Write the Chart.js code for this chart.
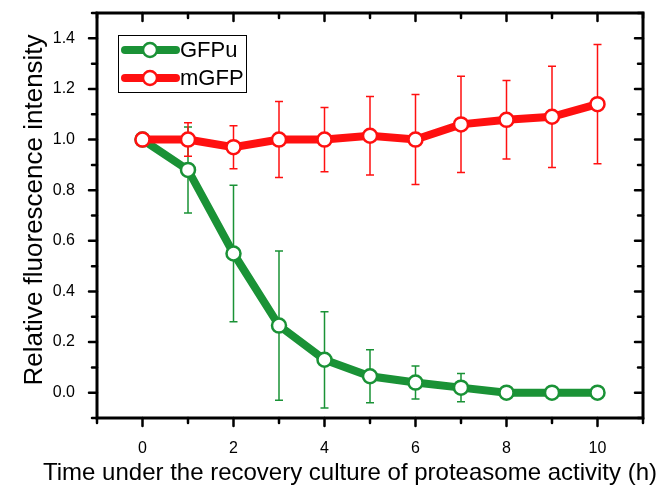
<!DOCTYPE html>
<html>
<head>
<meta charset="utf-8">
<script src="https://cdn.jsdelivr.net/npm/chart.js@4/dist/chart.umd.min.js"></script>
<style>
  html, body { margin: 0; padding: 0; background: #fff; }
  #wrap { width: 663px; height: 494px; }
</style>
</head>
<body>
<div id="wrap"><canvas id="chart1"></canvas></div>
<script>
// time points (h)
const hours = [0, 1, 2, 3, 4, 5, 6, 7, 8, 9, 10];

// GFPu
const gfpu = [1.0, 0.88, 0.55, 0.265, 0.13, 0.065, 0.04, 0.02, 0.0, 0.0, 0.0];
const gfpuErr = [0, 0.17, 0.27, 0.295, 0.19, 0.105, 0.065, 0.056, 0, 0, 0];

// mGFP
const mgfp = [1.0, 1.0, 0.97, 1.0, 1.0, 1.015, 1.0, 1.06, 1.078, 1.09, 1.14];
const mgfpErr = [0, 0.066, 0.085, 0.15, 0.127, 0.155, 0.178, 0.19, 0.155, 0.2, 0.236];

const xTickValues = [0, 2, 4, 6, 8, 10];
const yTickValues = [0, 0.2, 0.4, 0.6, 0.8, 1.0, 1.2, 1.4];

const GREEN = 'rgb(26,146,54)';
const RED = 'rgb(255,16,16)';
const FONT = 'Arial, "Liberation Sans", sans-serif';

const ctx = document.getElementById('chart1');

function pts(ys) {
    return hours.map((h, i) => ({x: h, y: ys[i]}));
}

// error bars under the lines
const errorBars = {
    id: 'errorBars',
    beforeDatasetsDraw(chart) {
        const c = chart.ctx, xs = chart.scales.x, ys = chart.scales.y;
        chart.data.datasets.forEach(ds => {
            c.save();
            c.strokeStyle = ds.borderColor;
            c.lineWidth = 1.5;
            ds.data.forEach((p, i) => {
                const e = ds.errors[i];
                if (!e) return;
                const px = xs.getPixelForValue(p.x);
                const top = ys.getPixelForValue(p.y + e);
                const bot = ys.getPixelForValue(p.y - e);
                c.beginPath();
                c.moveTo(px, top); c.lineTo(px, bot);
                c.moveTo(px - 4, top); c.lineTo(px + 4, top);
                c.moveTo(px - 4, bot); c.lineTo(px + 4, bot);
                c.stroke();
            });
            c.restore();
        });
    }
};

// frame, ticks, axis titles and legend
const frame = {
    id: 'frame',
    afterDraw(chart) {
        const c = chart.ctx, a = chart.chartArea;
        const xs = chart.scales.x, ys = chart.scales.y;
        c.save();
        c.strokeStyle = '#000';
        c.lineCap = 'round';
        c.lineWidth = 2.5;
        // x ticks
        for (let v = -1; v <= 11; v++) {
            const px = xs.getPixelForValue(v);
            const len = (v % 2 === 0) ? 8 : 5;
            c.beginPath();
            c.moveTo(px, a.bottom); c.lineTo(px, a.bottom + len);
            c.moveTo(px, a.top); c.lineTo(px, a.top + len);
            c.stroke();
        }
        // y ticks
        for (let k = -1; k <= 15; k++) {
            const py = ys.getPixelForValue(k / 10);
            const len = (k % 2 === 0) ? 8 : 5;
            c.beginPath();
            c.moveTo(a.left, py); c.lineTo(a.left - len, py);
            c.moveTo(a.right, py); c.lineTo(a.right - len, py);
            c.stroke();
        }
        c.lineWidth = 3;
        c.lineCap = 'square';
        c.strokeRect(a.left, a.top, a.right - a.left, a.bottom - a.top);

        // axis titles
        c.fillStyle = '#000';
        c.font = '24px ' + FONT;
        c.textAlign = 'center';
        c.textBaseline = 'middle';
        c.fillText('Time under the recovery culture of proteasome activity (h)', 350, 473);
        c.save();
        c.translate(35, 210);
        c.rotate(-Math.PI / 2);
        c.font = '26px ' + FONT;
        c.fillText('Relative fluorescence intensity', 0, 0);
        c.restore();

        // legend
        const lx = 118, ly = 35;
        c.lineWidth = 1;
        c.strokeRect(lx + 0.5, ly + 0.5, 128, 57);
        chart.data.datasets.forEach((ds, i) => {
            const y = ly + 15 + i * 28;
            c.strokeStyle = ds.borderColor;
            c.lineWidth = 8;
            c.lineCap = 'round';
            c.beginPath();
            c.moveTo(lx + 7, y); c.lineTo(lx + 58, y);
            c.stroke();
            c.beginPath();
            c.arc(lx + 32, y, 7, 0, Math.PI * 2);
            c.fillStyle = '#fff';
            c.fill();
            c.lineWidth = 2.5;
            c.stroke();
            c.fillStyle = '#000';
            c.font = '22px ' + FONT;
            c.textAlign = 'left';
            c.fillText(ds.label, lx + 62, y + 1);
        });
        c.restore();
    }
};

const config = {
    type: 'line',
    data: {
        datasets: [
            {
                label: 'GFPu',
                data: pts(gfpu),
                errors: gfpuErr,
                borderColor: GREEN,
                backgroundColor: '#fff',
                borderWidth: 8,
                pointRadius: 7,
                pointBorderWidth: 2.5,
                pointBackgroundColor: '#fff',
                pointBorderColor: GREEN,
                order: 1
            },
            {
                label: 'mGFP',
                data: pts(mgfp),
                errors: mgfpErr,
                borderColor: RED,
                backgroundColor: '#fff',
                borderWidth: 8,
                pointRadius: 7,
                pointBorderWidth: 2.5,
                pointBackgroundColor: '#fff',
                pointBorderColor: RED,
                order: 0
            }
        ]
    },
    options: {
        responsive: true,
        maintainAspectRatio: false,
        animation: false,
        layout: { padding: { left: 0, right: 20, top: 13, bottom: 0 } },
        plugins: { legend: { display: false }, tooltip: { enabled: false } },
        scales: {
            x: {
                type: 'linear',
                min: -1,
                max: 11,
                grid: { display: false },
                border: { display: false },
                afterBuildTicks: s => { s.ticks = xTickValues.map(v => ({value: v})); },
                afterFit: s => { s.height = 76; s.paddingLeft = 0; s.paddingRight = 0; },
                ticks: { color: '#000', padding: 13, font: { size: 16, family: FONT } }
            },
            y: {
                type: 'linear',
                min: -0.1,
                max: 1.5,
                grid: { display: false },
                border: { display: false },
                afterBuildTicks: s => { s.ticks = yTickValues.map(v => ({value: v})); },
                afterFit: s => { s.width = 97; s.paddingTop = 0; s.paddingBottom = 0; },
                ticks: {
                    color: '#000', padding: 14, font: { size: 16, family: FONT },
                    callback: v => v.toFixed(1)
                }
            }
        }
    },
    plugins: [errorBars, frame]
};

let chart = new Chart(ctx, config);
</script>
</body>
</html>
